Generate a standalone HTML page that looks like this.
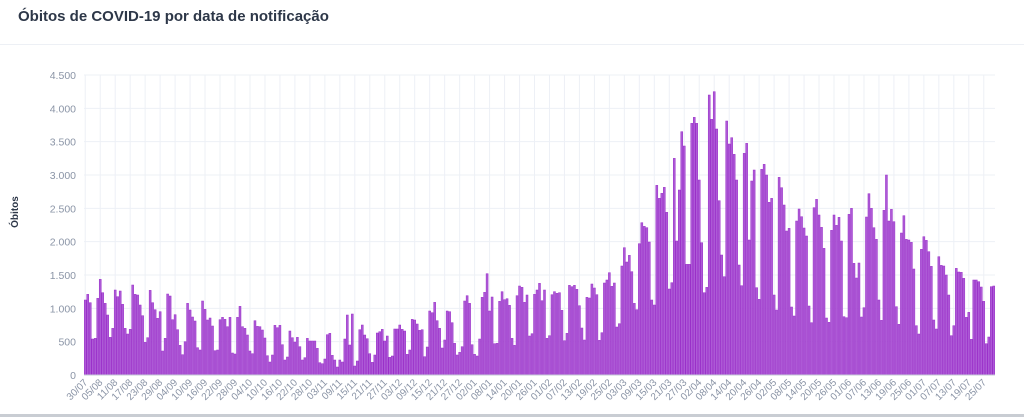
<!DOCTYPE html>
<html><head><meta charset="utf-8">
<style>
body{margin:0;width:1024px;height:417px;background:#fff;overflow:hidden;font-family:"Liberation Sans",sans-serif;}
#title{position:absolute;left:18px;top:8px;font-size:15px;font-weight:bold;color:#2d3748;}
#sep{position:absolute;left:0;top:44px;width:1024px;height:1px;background:#edf0f5;}
#bottom{position:absolute;left:0;top:414px;width:1024px;height:3px;background:#c9cdd3;}
</style></head><body>
<div id="title">Óbitos de COVID-19 por data de notificação</div>
<div id="sep"></div>
<svg id="chart" width="1024" height="417" style="position:absolute;left:0;top:0"></svg>
<div id="bottom"></div>
<script>
const startDate = [2020, 6, 30];
const yTicks = [0,500,1000,1500,2000,2500,3000,3500,4000,4500];
const deaths = [
1125,1210,1085,540,550,1150,1435,1235,1075,900,565,700,1275,1175,1260,1060,700,615,685,1350,1210,1200,1050,890,490,560,1270,1085,980,850,950,360,550,1215,1185,830,905,680,445,305,500,1075,975,870,810,410,375,1110,985,825,855,735,365,375,830,865,835,725,865,330,315,865,1030,725,700,600,360,320,815,730,725,675,555,290,195,300,745,710,745,455,225,270,660,560,495,565,425,
225,260,550,510,510,510,400,185,170,240,605,625,295,225,120,225,195,540,900,450,915,135,210,680,750,600,545,320,190,300,630,650,685,510,585,265,285,690,690,750,685,660,310,375,835,825,765,670,680,275,420,960,935,1090,815,700,405,525,960,950,785,475,300,340,425,1110,1190,1075,455,310,285,540,1165,1240,1520,960,1170,470,475,1105,1250,1130,1145,1045,550,445,1190,
1335,1315,1090,1200,585,620,1210,1275,1375,1115,1275,550,590,1205,1250,1225,1235,970,515,625,1345,1325,1345,1285,1040,705,525,1165,1155,1365,1305,1205,520,635,1380,1425,1535,1330,1380,720,770,1635,1910,1695,1795,1550,1075,980,1970,2285,2230,2210,1995,1125,1050,2845,2650,2725,2815,2440,1290,1385,
3250,2010,2775,3650,3435,1660,1660,3775,3865,3775,2925,1985,1235,1315,4200,3835,4250,3690,2615,1800,1475,3810,3465,3560,3310,2925,1650,1340,3325,3475,2025,2910,3075,1310,
1135,3085,3160,3000,2590,2650,1200,975,2965,2810,2550,2160,2200,1020,885,2310,2490,2375,2205,2085,1035,785,2510,2635,2400,2215,1900,855,790,2170,2400,2245,2365,2010,875,860,2410,2500,1675,1455,1680,870,1010,2370,2720,2500,2210,2035,1125,820,2470,3000,2310,2485,2300,1025,760,2130,2390,2035,2025,1990,1590,740,615,1885,2075,2020,1850,1630,825,690,1775,1645,1635,1500,1200,590,740,1600,1545,1540,1450,865,940,535,1425,1425,1400,1320,1105,470,570,1325,1335
];
const NS='http://www.w3.org/2000/svg';
const svg=document.getElementById('chart');
const X0=84, X1=995, Y0=375, Y1=75, YMAX=4500;
const step=(X1-X0)/deaths.length;
const xPos=i=>X0+step*(i+0.5);
const yPos=v=>Y0-(v/YMAX)*(Y0-Y1);
function mk(t,a){const e=document.createElementNS(NS,t);for(const k in a)e.setAttribute(k,a[k]);svg.appendChild(e);return e;}
function fmt(v){return v>=1000?Math.floor(v/1000)+'.'+String(v%1000).padStart(3,'0'):String(v);}
yTicks.forEach(t=>{
  const y=yPos(t);
  const g=mk('line',{x1:X0,x2:X1,y1:y,y2:y,stroke:'#edf0f6','stroke-width':1});
  
  
  const tx=mk('text',{x:76,y:y+4,'text-anchor':'end','font-size':10.5,fill:'#8a94a6'});
  tx.textContent=fmt(t);
  
  
});
const d0=new Date(startDate[0],startDate[1],startDate[2]);
for(let i=0;i<deaths.length;i+=6){
  const x=xPos(i);
  const g=mk('line',{x1:x,x2:x,y1:Y1,y2:Y0,stroke:'#edf0f6','stroke-width':1});
  
  
  const d=new Date(d0.getTime()+i*86400000);
  const lbl=String(d.getDate()).padStart(2,'0')+'/'+String(d.getMonth()+1).padStart(2,'0');
  const tx=mk('text',{x:x+3,y:Y0+8,'text-anchor':'end','font-size':10,fill:'#8a94a6',transform:`rotate(-45 ${x+3} ${Y0+8})`});
  tx.textContent=lbl;
  
  
}
deaths.forEach((v,i)=>{
  const y=yPos(v);
  const r=mk('rect',{x:xPos(i)-step*0.4,y:y,width:step*0.8,height:Y0-y,fill:'#ad5ad6',stroke:'#9a2fc9','stroke-width':0.5});
  
  
});
const ax=mk('line',{x1:X0,x2:X1,y1:Y0,y2:Y0,stroke:'#c5cbd6','stroke-width':1});


const yt=mk('text',{x:18,y:212,'text-anchor':'middle','font-size':10,'font-weight':'bold',fill:'#2d3748',transform:'rotate(-90 18 212)'});
yt.textContent='Óbitos';


</script>
</body></html>
